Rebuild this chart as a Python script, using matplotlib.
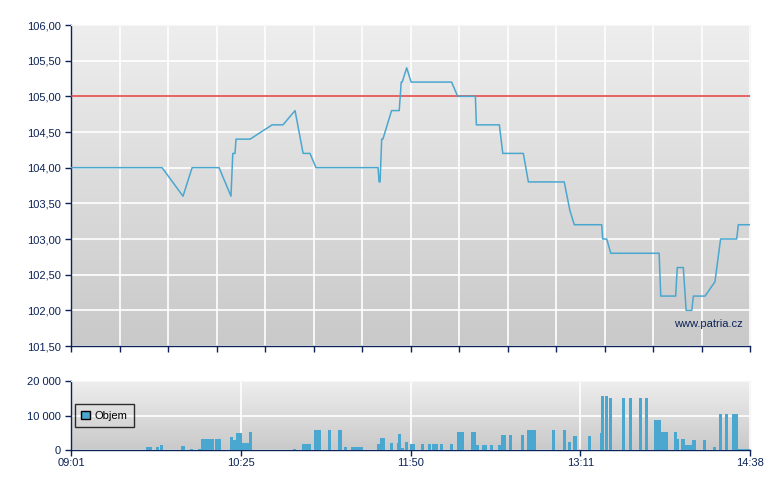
import numpy as np
import matplotlib
matplotlib.use("Agg")
import matplotlib.pyplot as plt
from matplotlib.patches import Patch

plt.rcParams['font.family'] = ['Liberation Sans', 'DejaVu Sans']

# casova osa v minutach od 09:01
session_len = 337
tick_labels = ['09:01', '10:25', '11:50', '13:11', '14:38']

# cena
price_time = [0, 45.2, 55.6, 60.1, 73.5, 79.4, 80.3, 81.4, 81.9, 88.9, 99.8, 105.2,
              111.2, 115.2, 118.6, 121.6, 152.4, 152.9, 153.4, 154.2, 154.8, 159.1,
              162.9, 163.9, 164.4, 166.6, 168.8, 188.9, 191.9, 200.7, 201.2, 212.6,
              214.3, 224.5, 227.0, 244.8, 247.6, 249.8, 263.4, 263.9, 265.9, 267.9,
              291.9, 292.7, 300.1, 300.9, 303.9, 305.3, 308.1, 308.9, 314.7, 319.6,
              322.4, 330.4, 331.2, 337]
price = [104.0, 104.0, 103.6, 104.0, 104.0, 103.6, 104.2, 104.2, 104.4, 104.4, 104.6, 104.6,
         104.8, 104.2, 104.2, 104.0, 104.0, 103.8, 103.8, 104.4, 104.4, 104.8,
         104.8, 105.2, 105.2, 105.4, 105.2, 105.2, 105.0, 105.0, 104.6, 104.6,
         104.2, 104.2, 103.8, 103.8, 103.4, 103.2, 103.2, 103.0, 103.0, 102.8,
         102.8, 102.2, 102.2, 102.6, 102.6, 102.0, 102.0, 102.2, 102.2, 102.4,
         103.0, 103.0, 103.2, 103.2]
ref_price = 105.0

# objem
vol_start = [37.2, 42.2, 44.2, 54.6, 59.1, 63.0, 64.5, 71.5, 78.9, 80.4, 81.9, 84.9, 88.3,
             110.2, 114.6, 117.6, 120.6, 127.5, 132.5, 135.5, 139.0, 151.9, 153.4, 158.3,
             161.8, 162.3, 163.8, 165.8, 168.3, 173.7, 177.2, 179.2, 183.1, 188.1, 191.6,
             198.5, 201.0, 204.0, 208.0, 211.9, 213.4, 217.4, 223.3, 226.3, 238.7, 244.2,
             246.7, 249.1, 256.6, 262.5, 263.0, 265.0, 267.0, 273.5, 276.9, 281.9, 284.9,
             289.3, 292.8, 299.3, 300.8, 302.7, 304.7, 308.2, 313.7, 318.6, 321.6, 324.6,
             328.1, 331.0]
vol_end = [40.2, 43.7, 45.7, 56.6, 60.5, 64.5, 71.0, 74.4, 80.4, 81.9, 84.9, 88.3, 89.8,
           111.7, 117.4, 119.1, 124.1, 129.0, 134.5, 137.0, 144.9, 153.4, 155.8, 159.8,
           162.3, 163.8, 165.3, 167.3, 170.7, 175.2, 178.7, 182.1, 184.6, 189.6, 195.0,
           201.0, 202.5, 206.5, 209.4, 213.4, 215.9, 218.9, 224.8, 230.8, 240.2, 245.7,
           248.2, 251.1, 258.1, 263.0, 264.5, 266.5, 268.5, 275.0, 278.4, 283.4, 286.4,
           292.8, 296.3, 300.8, 301.8, 304.7, 308.2, 310.2, 315.2, 320.1, 323.1, 326.1,
           331.0, 337.0]
vol_value = [900, 900, 1500, 1200, 300, 300, 3200, 3200, 3800, 2900, 4900, 2000, 5200,
             300, 1800, 1800, 5800, 5800, 5800, 900, 900, 1800, 3500, 2000,
             2000, 4600, 600, 2300, 1700, 1700, 1700, 1700, 1700, 1700, 5200,
             5200, 1500, 1500, 1500, 1500, 4400, 4400, 4400, 5800, 5800, 5800,
             2300, 4000, 4000, 4900, 15600, 15600, 15000, 15000, 15000, 15000, 15000,
             8700, 5200, 5200, 3200, 3200, 1500, 2900, 2900, 900, 10400, 10400,
             10400, 300]

navy = '#0b2356'
blue = '#4aa7cf'

fig = plt.figure(figsize=(7.8, 4.9), dpi=100)
ax1 = fig.add_axes([71 / 780, 1 - 346 / 490, 679 / 780, 321 / 490])
ax2 = fig.add_axes([71 / 780, 1 - 450 / 490, 679 / 780, 69 / 490])

grad = np.linspace(0, 1, 256).reshape(-1, 1)
cmap = matplotlib.colors.LinearSegmentedColormap.from_list('g', ['#eeeeee', '#c9c9c9'])
for ax in (ax1, ax2):
    ax.imshow(grad, cmap=cmap, extent=[0, 1, 0, 1], transform=ax.transAxes,
              aspect='auto', zorder=0)
    ax.set_xlim(0, session_len)
    for s in ('left', 'bottom'):
        ax.spines[s].set_color(navy)
        ax.spines[s].set_linewidth(1.0)
    for s in ('top', 'right'):
        ax.spines[s].set_color('#f6f6f6')
    ax.tick_params(colors=navy, labelcolor=navy, labelsize=8, length=4, width=1, direction='out')
    ax.grid(True, color='white', linewidth=1.2, zorder=1)

# horni graf
ax1.set_ylim(101.5, 106)
ax1.set_yticks(np.arange(101.5, 106.01, 0.5))
ax1.set_yticklabels([f'{v:.2f}'.replace('.', ',') for v in np.arange(101.5, 106.01, 0.5)])
ax1.set_xticks(np.linspace(0, session_len, 15))
ax1.set_xticklabels([])
ax1.axhline(ref_price, color='#e03a3a', linewidth=1.1, zorder=3)
ax1.plot(price_time, price, color=blue, linewidth=1.1, zorder=4)
ax1.text(0.99, 0.07, 'www.patria.cz', transform=ax1.transAxes, ha='right', va='center',
         color=navy, fontsize=8, zorder=5)

# dolni graf - objem
widths = [e - s for s, e in zip(vol_start, vol_end)]
ax2.bar(vol_start, vol_value, width=widths, align='edge', color=blue, linewidth=0, zorder=3)
ax2.set_ylim(0, 20000)
ax2.set_yticks([0, 10000, 20000])
ax2.set_yticklabels(['0', '10 000', '20 000'])
ax2.set_xticks(np.linspace(0, session_len, 5))
ax2.set_xticklabels(tick_labels)
ax2.tick_params(axis='x', pad=2)

leg = ax2.legend(handles=[Patch(facecolor=blue, edgecolor='black', linewidth=1, label='Objem')],
                 loc='upper left', bbox_to_anchor=(0.006, 0.66), frameon=True, fancybox=False,
                 fontsize=8, handlelength=0.8, handleheight=0.8, handletextpad=0.4,
                 borderpad=0.55, borderaxespad=0)
leg.get_frame().set_edgecolor('black')
leg.get_frame().set_facecolor('none')
leg.get_frame().set_linewidth(1)
leg.set_zorder(6)

fig.savefig('out.png', dpi=100)
